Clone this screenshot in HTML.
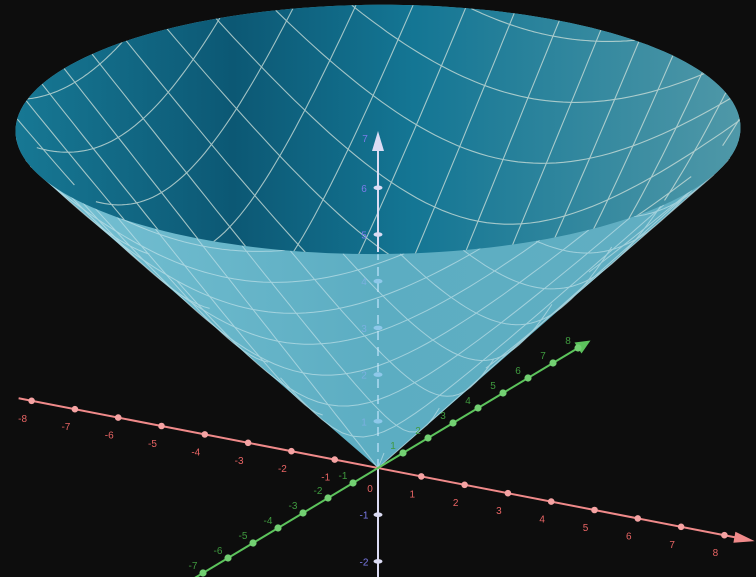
<!DOCTYPE html>
<html><head><meta charset="utf-8"><style>
html,body{margin:0;padding:0;background:#0d0d0d;}
svg{display:block;font-family:"Liberation Sans",sans-serif;}
</style></head><body>
<svg id="c" width="756" height="577" viewBox="0 0 756 577" xmlns="http://www.w3.org/2000/svg">
<defs>
<linearGradient id="inner" x1="0" x2="1" y1="0" y2="0">
<stop offset="0" stop-color="#177894"/><stop offset="0.3" stop-color="#0c5874"/><stop offset="0.55" stop-color="#147694"/><stop offset="1" stop-color="#4f98a8"/>
</linearGradient>
<linearGradient id="outer" x1="0" x2="1" y1="0" y2="0">
<stop offset="0" stop-color="#78c2d4"/><stop offset="0.5" stop-color="#5cadc2"/><stop offset="1" stop-color="#62afc2"/>
</linearGradient>
</defs>
</svg>
<script>
const coneRadius = 7.25;
const gridValues = [-7,-6,-5,-4,-3,-2,-1,0,1,2,3,4,5,6,7];
const xTicks = [-8,-7,-6,-5,-4,-3,-2,-1,1,2,3,4,5,6,7,8];
const yTicks = [-7,-6,-5,-4,-3,-2,-1,1,2,3,4,5,6,7,8];
const zTicks = [-2,-1,1,2,3,4,5,6];

const NS = 'http://www.w3.org/2000/svg';
const svg = document.getElementById('c');
function P(x,y,z){ return [378 + 43.3*x + 25*y, 468 + 8.4*x - 15*y - 46.7*z]; }
function isFront(x,y){ return 8.4*x - 15*y >= 0; }
function mk(tag, attrs, parent){
  const e = document.createElementNS(NS, tag);
  for (const k in attrs) e.setAttribute(k, attrs[k]);
  (parent||svg).appendChild(e); return e;
}
function ptsStr(a){ return a.map(p=>p[0].toFixed(1)+','+p[1].toFixed(1)).join(' '); }
function hull(pts){
  const p = pts.slice().sort((a,b)=>a[0]-b[0]||a[1]-b[1]);
  const cr=(o,a,b)=>(a[0]-o[0])*(b[1]-o[1])-(a[1]-o[1])*(b[0]-o[0]);
  const lo=[],up=[];
  for(const q of p){ while(lo.length>=2&&cr(lo[lo.length-2],lo[lo.length-1],q)<=0) lo.pop(); lo.push(q); }
  for(let i=p.length-1;i>=0;i--){ const q=p[i]; while(up.length>=2&&cr(up[up.length-2],up[up.length-1],q)<=0) up.pop(); up.push(q); }
  up.pop(); lo.pop(); return lo.concat(up);
}

const R = coneRadius, N = 180;
const rim = [];
for (let i=0;i<N;i++){ const t=i/N*2*Math.PI; rim.push(P(R*Math.cos(t), R*Math.sin(t), R)); }
const tip = P(0,0,0);

const outer = mk('polygon', {points: ptsStr(hull(rim.concat([tip]))), fill:'url(#outer)'});



const zd = mk('line', {x1:378, y1:468, x2:378, y2:250, stroke:'#a9d8f0', 'stroke-width':2, 'stroke-dasharray':'9,7', opacity:0.8});



const gFront = mk('g', {stroke:'#d9eef2', 'stroke-width':1, fill:'none', opacity:0.55});


const inner = mk('polygon', {points: ptsStr(rim), fill:'url(#inner)'});


const clip = mk('clipPath', {id:'rimclip'});
mk('polygon', {points: ptsStr(rim)}, clip);
const gBack = mk('g', {stroke:'#c9ddd8', 'stroke-width':1.1, fill:'none', opacity:0.8, 'clip-path':'url(#rimclip)'});



function gridLine(c, vertical){
  const m = Math.sqrt(Math.max(R*R - c*c, 0));
  const S = 60; let run = [], front = null;
  const flush = () => { if (run.length>1){
      const pl = mk('polyline', {points: ptsStr(run)}, front ? gFront : gBack);
      
      
    } };
  for (let i=0;i<=S;i++){
    const s = -m + 2*m*i/S;
    const x = vertical ? c : s, y = vertical ? s : c;
    const z = Math.sqrt(x*x+y*y);
    const f = isFront(x,y);
    if (front !== null && f !== front){ const p=P(x,y,z); run.push(p); flush(); run=[p]; }
    front = f; run.push(P(x,y,z));
  }
  flush();
}
gridValues.forEach(c => { gridLine(c, true); gridLine(c, false); });

const zc = '#dcdcf4';
const za = mk('line', {x1:378, y1:577, x2:378, y2:468, stroke:zc, 'stroke-width':2});


const zu = mk('line', {x1:378, y1:252, x2:378, y2:150, stroke:zc, 'stroke-width':2});


const zarr = mk('polygon', {points:'378,131 372,151 384,151', fill:zc});


zTicks.forEach(v => {
  const p = P(0,0,v);
  const hidden = p[1] > 252 && p[1] < 468;
  const t = mk('ellipse', {cx:p[0], cy:p[1], rx:4.5, ry:2.3, fill: hidden ? '#8ec8ea' : zc});
  
  
  const l = mk('text', {x:p[0]-14, y:p[1]+4, fill: hidden ? '#7ab0e0' : '#7b7bea', 'font-size':10, 'text-anchor':'middle'});
  l.textContent = v<0 ? '-'+Math.abs(v) : String(v);
  
  
});
const z7 = mk('text', {x:365, y:142, fill:'#7b7bea', 'font-size':10, 'text-anchor':'middle'});
z7.textContent = '7';



const xa0 = P(-8.3,0,0), xa1 = P(8.3,0,0);
const xl = mk('line', {x1:xa0[0], y1:xa0[1], x2:xa1[0], y2:xa1[1], stroke:'#f08a8a', 'stroke-width':2});


const xt = P(8.7,0,0);
const xarr = mk('polygon', {points:`${xt[0]},${xt[1]} ${xa1[0]-2},${xa1[1]-6} ${xa1[0]-4},${xa1[1]+5}`, fill:'#f08a8a'});


xTicks.forEach(v => {
  const p = P(v,0,0);
  const c = mk('circle', {cx:p[0], cy:p[1], r:3.3, fill:'#f5a3a3'});
  
  
  const l = mk('text', {x:p[0]-9, y:p[1]+21, fill:'#e86464', 'font-size':10, 'text-anchor':'middle'});
  l.textContent = v<0 ? '-'+Math.abs(v) : String(v);
  
  
});
const x0 = mk('text', {x:370, y:492, fill:'#e86464', 'font-size':10, 'text-anchor':'middle'});
x0.textContent = '0';



const ya0 = P(0,-7.5,0), ya1 = P(0,8.1,0);
const yl = mk('line', {x1:ya0[0], y1:ya0[1], x2:ya1[0], y2:ya1[1], stroke:'#5cc35c', 'stroke-width':2});


const yt = P(0,8.5,0);
const yarr = mk('polygon', {points:`${yt[0]},${yt[1]} ${ya1[0]-6},${ya1[1]-4} ${ya1[0]+1},${ya1[1]+7}`, fill:'#5cc35c'});


yTicks.forEach(v => {
  const p = P(0,v,0);
  const c = mk('circle', {cx:p[0], cy:p[1], r:3.6, fill:'#72d072'});
  
  
  const l = mk('text', {x:p[0]-10, y:p[1]-4, fill:'#3f9a3f', 'font-size':10, 'text-anchor':'middle'});
  l.textContent = v<0 ? '-'+Math.abs(v) : String(v);
  
  
});
</script>
</body></html>
